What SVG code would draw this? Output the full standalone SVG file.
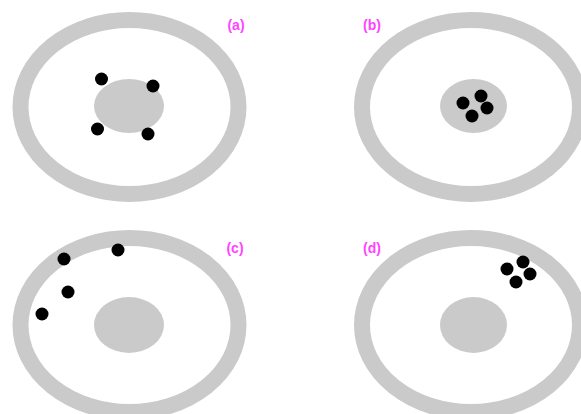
<svg xmlns="http://www.w3.org/2000/svg" width="581" height="414" viewBox="0 0 581 414">
<style>
.ring{fill:none;stroke:#cacaca;stroke-width:16}
.core{fill:#cacaca}
.dot{fill:#000}
.lbl{font-family:"Liberation Sans",Arial,sans-serif;font-size:14px;font-weight:bold;fill:#ff44ff;text-anchor:middle}
</style>
<rect width="581" height="414" fill="#fff"/>
<g id="panel-a">
<ellipse class="ring" cx="129.5" cy="107" rx="109" ry="87"/>
<ellipse class="core" cx="129" cy="106" rx="35" ry="27"/>
<circle class="dot" cx="101.5" cy="79" r="6.5"/>
<circle class="dot" cx="153" cy="86" r="6.5"/>
<circle class="dot" cx="97.5" cy="129" r="6.5"/>
<circle class="dot" cx="148" cy="134" r="6.5"/>
<text class="lbl" x="236" y="30">(a)</text>
</g>
<g id="panel-b">
<ellipse class="ring" cx="471" cy="107" rx="109" ry="87"/>
<ellipse class="core" cx="473.5" cy="106" rx="33.5" ry="27"/>
<circle class="dot" cx="463" cy="103" r="6.5"/>
<circle class="dot" cx="481" cy="96" r="6.5"/>
<circle class="dot" cx="487" cy="108" r="6.5"/>
<circle class="dot" cx="472" cy="116" r="6.5"/>
<text class="lbl" x="372" y="30">(b)</text>
</g>
<g id="panel-c">
<ellipse class="ring" cx="129.5" cy="325" rx="109" ry="87"/>
<ellipse class="core" cx="129" cy="325" rx="35" ry="28"/>
<circle class="dot" cx="64" cy="259" r="6.5"/>
<circle class="dot" cx="118" cy="250" r="6.5"/>
<circle class="dot" cx="68" cy="292" r="6.5"/>
<circle class="dot" cx="42" cy="314" r="6.5"/>
<text class="lbl" x="235" y="253">(c)</text>
</g>
<g id="panel-d">
<ellipse class="ring" cx="471" cy="325" rx="109" ry="87"/>
<ellipse class="core" cx="473.5" cy="325" rx="33.5" ry="28"/>
<circle class="dot" cx="507" cy="269" r="6.5"/>
<circle class="dot" cx="523" cy="262" r="6.5"/>
<circle class="dot" cx="530" cy="274" r="6.5"/>
<circle class="dot" cx="516" cy="282" r="6.5"/>
<text class="lbl" x="372" y="253">(d)</text>
</g>
<g id="connectors"></g>
</svg>
